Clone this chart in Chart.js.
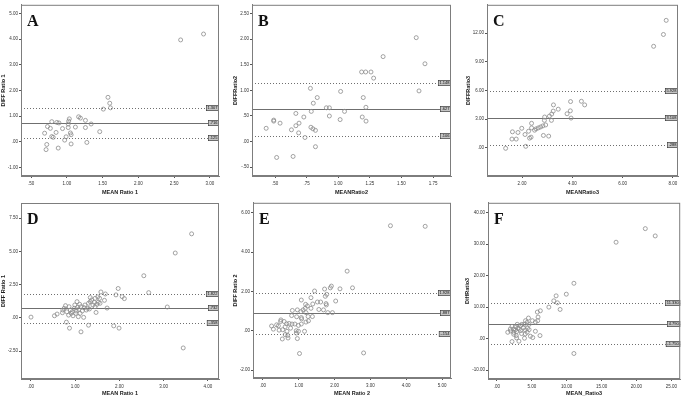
<!DOCTYPE html>
<html>
<head>
<meta charset="utf-8">
<script src="https://cdn.jsdelivr.net/npm/chart.js@4"></script>
<style>
  body { margin: 0; background: #fff; }
  #wrap { position: relative; width: 685px; height: 398px; }
  canvas { position: absolute; }
</style>
</head>
<body>
<div id="wrap"></div>
<script>
// Bland-Altman plots, panels A-F (mean of ratios vs difference)

const aMean = [2.59, 2.91, 1.575, 1.60, 1.61, 1.51, 1.165, 1.19, 1.035, 1.026, 0.79, 0.86, 0.89, 1.26, 1.34, 1.02, 0.73, 0.77, 0.94, 1.02, 1.12, 1.26, 0.69, 0.85, 1.05, 1.06, 0.79, 0.81, 0.99, 0.97, 1.46, 1.06, 0.72, 0.71, 0.88, 1.28];
const aDiff = [3.97, 4.20, 1.73, 1.50, 1.32, 1.27, 0.97, 0.92, 0.89, 0.80, 0.78, 0.75, 0.73, 0.83, 0.69, 0.69, 0.59, 0.52, 0.51, 0.55, 0.57, 0.55, 0.33, 0.36, 0.34, 0.27, 0.20, 0.17, 0.19, 0.06, 0.39, -0.09, -0.11, -0.31, -0.25, -0.03];
const aLimits = [1.307, 0.716, 0.125];

const bMean = [1.617, 1.355, 1.686, 1.185, 1.217, 1.259, 1.28, 0.78, 1.019, 1.639, 0.834, 1.198, 0.803, 0.906, 0.93, 1.219, 0.787, 1.05, 0.665, 0.728, 0.93, 1.19, 1.015, 1.22, 0.49, 0.49, 0.54, 0.69, 0.665, 0.784, 0.80, 0.82, 0.43, 0.63, 0.687, 0.737, 0.82, 0.513, 0.643];
const bDiff = [2.03, 1.66, 1.52, 1.36, 1.36, 1.36, 1.24, 1.04, 0.98, 0.99, 0.86, 0.86, 0.75, 0.66, 0.66, 0.67, 0.59, 0.59, 0.55, 0.48, 0.50, 0.48, 0.43, 0.40, 0.42, 0.40, 0.36, 0.36, 0.31, 0.28, 0.25, 0.22, 0.26, 0.23, 0.17, 0.08, -0.10, -0.31, -0.29];
const bLimits = [1.148, 0.627, 0.106];

const cMean = [7.73, 7.62, 7.23, 4.36, 3.93, 3.25, 4.49, 3.44, 3.92, 3.24, 3.79, 3.18, 3.09, 3.95, 2.90, 3.17, 2.89, 2.38, 2.94, 2.83, 2.74, 2.65, 2.56, 2.50, 1.99, 2.38, 2.26, 1.62, 1.84, 2.12, 2.85, 3.06, 2.36, 2.30, 1.60, 1.77, 2.15, 1.35];
const cDiff = [13.34, 11.86, 10.62, 4.86, 4.83, 4.48, 4.48, 4.03, 3.86, 3.83, 3.55, 3.52, 3.31, 3.10, 3.21, 2.86, 2.86, 2.55, 2.38, 2.28, 2.17, 2.07, 1.97, 1.83, 2.03, 2.07, 1.72, 1.66, 1.59, 1.38, 1.28, 1.21, 1.10, 1.00, 0.90, 0.90, 0.14, -0.07];
const cLimits = [5.928, 3.108, 0.288];

const dMean = [3.63, 3.26, 2.55, 2.66, 1.97, 1.58, 1.68, 1.92, 2.06, 2.11, 1.51, 1.34, 1.66, 3.08, 1.72, 1.87, 1.99, 3.44, 0.00, 1.13, 0.87, 1.30, 0.80,
  0.53, 0.59, 0.71, 0.72, 0.75, 0.78, 0.81, 0.85, 0.86, 0.89, 0.91, 0.93, 0.95, 0.98, 0.99, 1.01, 1.02, 1.04, 1.05, 1.07, 1.08, 1.10, 1.11, 1.13, 1.16, 1.19, 1.20, 1.22, 1.25, 1.28, 1.30, 1.32, 1.34, 1.37, 1.40, 1.43, 1.45, 1.47, 1.49, 1.52, 1.56, 1.55, 1.45];
const dDiff = [6.31, 4.87, 3.16, 1.89, 2.20, 1.94, 1.79, 1.72, 1.59, 1.44, 1.57, 1.52, 1.31, 0.81, 0.73, -0.61, -0.78, -2.27, 0.05, -1.06, -0.78, -0.56, -0.33,
  0.15, 0.28, 0.38, 0.58, 0.71, 0.91, 0.45, 0.20, 0.83, 0.58, 0.33, 0.45, 0.15, 0.71, 0.96, 0.33, 0.51, 1.21, 0.78, 0.08, 0.63, 1.01, 0.33, 0.83, 0.51, 0.03, 0.76, 0.96, 0.58, 0.71, 1.09, 0.66, 1.21, 1.34, 0.96, 1.16, 0.83, 0.40, 1.01, 1.16, 1.09, 1.46, 1.46];
const dLimits = [1.822, 0.732, -0.358];

const eMean = [3.56, 4.53, 2.35, 2.50, 2.15, 1.91, 1.88, 1.72, 1.44, 1.78, 1.74, 2.03, 1.76, 1.77, 1.52, 1.61, 1.34, 1.07, 1.39, 1.19, 1.24, 1.34, 1.56, 1.69, 1.18, 1.12, 0.96, 1.06, 1.20, 1.81, 1.94, 1.38, 1.26, 1.07, 0.94, 0.80, 0.82, 1.08, 1.20, 1.27, 1.07, 0.99, 0.89, 0.73, 0.81, 0.66, 0.59, 0.50, 0.49, 0.38, 0.24, 0.29, 0.43, 0.45, 0.62, 0.77, 0.93, 0.93, 0.99, 1.16, 0.62, 0.69, 0.70, 0.54, 0.96, 1.02, 2.81, 0.55, 0.67];
const eDiff = [5.34, 5.31, 3.03, 2.18, 2.13, 2.27, 2.18, 2.12, 2.02, 1.85, 1.75, 1.51, 1.38, 1.31, 1.46, 1.46, 1.68, 1.56, 1.36, 1.34, 1.26, 1.14, 1.08, 1.06, 1.14, 1.06, 1.06, 0.97, 0.92, 0.92, 0.92, 0.72, 0.72, 0.67, 0.71, 0.77, 1.03, 0.60, 0.44, 0.50, 0.34, 0.27, 0.34, 0.37, 0.34, 0.35, 0.47, 0.55, 0.47, 0.30, 0.24, 0.08, 0.25, 0.03, 0.20, 0.13, 0.00, -0.12, -0.03, -0.03, -0.20, -0.24, -0.37, -0.42, -0.40, -1.16, -1.13, 0.05, -0.03];
const eLimits = [1.928, 0.887, -0.154];

const fMean = [21.27, 22.69, 17.08, 11.04, 9.95, 8.49, 8.16, 8.68, 7.45, 9.06, 6.23, 5.80, 5.90, 4.53, 5.85, 5.09, 5.52, 4.10, 4.34, 3.58, 3.96, 4.62, 2.92, 3.40, 2.69, 2.17, 1.93, 2.41, 3.02, 3.82, 4.39, 1.56, 1.98, 2.41, 2.83, 3.40, 4.06, 4.62, 5.52, 2.41, 2.78, 3.54, 4.06, 4.34, 4.81, 5.14, 6.18, 2.83, 3.16, 2.17, 3.96, 11.04, 3.21, 2.64];
const fDiff = [34.95, 32.63, 30.63, 17.58, 14.11, 13.58, 12.00, 11.37, 10.00, 9.26, 8.84, 8.42, 6.84, 6.53, 5.68, 5.68, 5.26, 5.68, 5.16, 4.53, 4.53, 4.53, 4.53, 4.11, 3.79, 3.89, 3.05, 3.05, 3.26, 3.47, 3.26, 2.00, 2.42, 2.00, 2.21, 2.53, 2.74, 2.84, 2.32, 1.37, 0.95, 1.58, 1.47, 2.00, 0.74, 0.32, 0.95, 0.21, -0.84, -0.95, 0.11, -4.74, 3.05, 2.74];
const fLimits = [11.33, 4.79, -1.75];

const aXTicks = [0.5, 1, 1.5, 2, 2.5, 3], aYTicks = [-1, 0, 1, 2, 3, 4, 5];
const bXTicks = [0.5, 0.75, 1, 1.25, 1.5, 1.75], bYTicks = [-0.5, 0, 0.5, 1, 1.5, 2, 2.5];
const cXTicks = [2, 4, 6, 8], cYTicks = [0, 3, 6, 9, 12];
const dXTicks = [0, 1, 2, 3, 4], dYTicks = [-2.5, 0, 2.5, 5, 7.5];
const eXTicks = [0, 1, 2, 3, 4, 5], eYTicks = [-2, 0, 2, 4, 6];
const fXTicks = [0, 5, 10, 15, 20, 25], fYTicks = [-10, 0, 10, 20, 30, 40];

const LINE = "#6f6f6f";
const POINT = "#8c8c8c";

function fmt(v, d) {
    let s = Math.abs(v).toFixed(d);
    if (s.startsWith("0")) s = s.slice(1);
    return (v < 0 ? "-" : "") + s;
}

// draws box, limit lines, value tags and panel letter
const extras = {
    id: "extras",
    beforeDatasetsDraw(chart, args, o) {
        const a = chart.chartArea, ctx = chart.ctx, y = chart.scales.y;
        ctx.save();
        ctx.strokeStyle = LINE;
        o.limits.forEach((v, i) => {
            const py = Math.round(y.getPixelForValue(v)) + 0.5;
            ctx.lineWidth = i == 1 ? 1.1 : 1;
            ctx.setLineDash(i == 1 ? [] : [1, 2]);
            ctx.beginPath();
            ctx.moveTo(a.left, py);
            ctx.lineTo(a.right, py);
            ctx.stroke();
        });
        ctx.restore();
    },
    afterDatasetsDraw(chart, args, o) {
        const a = chart.chartArea, ctx = chart.ctx, y = chart.scales.y;
        ctx.save();
        ctx.font = "4px 'Liberation Sans'";
        ctx.textBaseline = "middle";
        o.limits.forEach(v => {
            const py = Math.round(y.getPixelForValue(v));
            const t = fmt(v, 3);
            const w = ctx.measureText(t).width + 3;
            ctx.fillStyle = "#c4c4c4";
            ctx.fillRect(a.right - w, py - 3, w, 6);
            ctx.strokeStyle = "#333";
            ctx.lineWidth = 0.6;
            ctx.strokeRect(a.right - w + 0.3, py - 2.7, w - 0.6, 5.4);
            ctx.fillStyle = "#111";
            ctx.fillText(t, a.right - w + 1.5, py + 0.3);
        });
        ctx.strokeStyle = "#7d7d7d";
        ctx.lineWidth = 1;
        ctx.strokeRect(a.left + 0.5, a.top + 0.5, a.right - a.left - 1, a.bottom - a.top - 1);
        ctx.fillStyle = "#111";
        ctx.textBaseline = "alphabetic";
        ctx.font = "bold 16px 'Liberation Serif'";
        ctx.fillText(o.letter, a.left + 6, a.top + 21);
        ctx.restore();
    }
};

const wrap = document.getElementById("wrap");

function makePanel(p) {
    const cv = document.createElement("canvas");
    cv.width = p.w; cv.height = p.h;
    cv.style.left = p.x + "px"; cv.style.top = p.y + "px";
    cv.style.width = p.w + "px"; cv.style.height = p.h + "px";
    wrap.appendChild(cv);
    const lh = 6;
    const padL = Math.max(0, p.yTitleX - lh / 2);
    const padB = Math.max(0, p.h - p.xTitleY - lh / 2);
    const tickFont = { family: "'Liberation Sans'", size: 4.5 };
    const titleFont = { family: "'Liberation Sans'", size: 5.5, weight: "bold", lineHeight: lh / 5.5 };
    return new Chart(cv, {
        type: "scatter",
        data: {
            datasets: [{
                data: p.mean.map((m, i) => ({ x: m, y: p.diff[i] })),
                pointStyle: "circle",
                pointRadius: 2,
                borderWidth: 0.8,
                borderColor: POINT,
                backgroundColor: "rgba(0,0,0,0)"
            }]
        },
        options: {
            responsive: false,
            animation: false,
            devicePixelRatio: 1,
            layout: { padding: { left: padL, top: p.area[1], right: p.w - p.area[2], bottom: padB } },
            plugins: {
                legend: { display: false },
                tooltip: { enabled: false },
                extras: { limits: p.limits, letter: p.letter }
            },
            scales: {
                x: {
                    type: "linear", min: p.xRange[0], max: p.xRange[1],
                    afterBuildTicks: s => { s.ticks = p.xTicks.map(v => ({ value: v })); },
                    afterFit: s => { s.height = p.h - padB - p.area[3]; },
                    grid: { drawOnChartArea: false, tickLength: 2, tickColor: "#555" },
                    border: { color: "#7d7d7d" },
                    ticks: { font: tickFont, color: "#333", padding: 3, maxRotation: 0, autoSkip: false, callback: v => fmt(v, 2) },
                    title: { display: true, text: p.xTitle, font: titleFont, color: "#222", padding: 0 }
                },
                y: {
                    type: "linear", min: p.yRange[0], max: p.yRange[1],
                    afterBuildTicks: s => { s.ticks = p.yTicks.map(v => ({ value: v })); },
                    afterFit: s => { s.width = p.area[0] - padL; },
                    grid: { drawOnChartArea: false, tickLength: 2, tickColor: "#555" },
                    border: { color: "#7d7d7d" },
                    ticks: { font: tickFont, color: "#333", padding: 1, autoSkip: false, callback: v => fmt(v, 2) },
                    title: { display: true, text: p.yTitle, font: titleFont, color: "#222", padding: 0 }
                }
            }
        },
        plugins: [extras]
    });
}

makePanel({ x: 0, y: 0, w: 228, h: 198, area: [21, 1, 219, 176], yTitleX: 3, xTitleY: 192,
    mean: aMean, diff: aDiff, limits: aLimits, xTicks: aXTicks, yTicks: aYTicks,
    xRange: [0.36, 3.126], yRange: [-1.34, 5.34], letter: "A", xTitle: "MEAN Ratio 1", yTitle: "DIFF Ratio 1" });
makePanel({ x: 228, y: 0, w: 228, h: 198, area: [24, 1, 223, 176], yTitleX: 7, xTitleY: 192,
    mean: bMean, diff: bDiff, limits: bLimits, xTicks: bXTicks, yTicks: bYTicks,
    xRange: [0.318, 1.892], yRange: [-0.672, 2.672], letter: "B", xTitle: "MEANRatio2", yTitle: "DIFFRatio2" });
makePanel({ x: 456, y: 0, w: 229, h: 198, area: [31, 1, 222, 176], yTitleX: 12, xTitleY: 192,
    mean: cMean, diff: cDiff, limits: cLimits, xTicks: cXTicks, yTicks: cYTicks,
    xRange: [0.609, 8.199], yRange: [-2.97, 14.97], letter: "C", xTitle: "MEANRatio3", yTitle: "DIFFRatio3" });
makePanel({ x: 0, y: 198, w: 228, h: 200, area: [21, 5, 219, 181], yTitleX: 3, xTitleY: 195,
    mean: dMean, diff: dDiff, limits: dLimits, xTicks: dXTicks, yTicks: dYTicks,
    xRange: [-0.226, 4.249], yRange: [-4.605, 8.63], letter: "D", xTitle: "MEAN Ratio 1", yTitle: "DIFF Ratio 1" });
makePanel({ x: 228, y: 198, w: 228, h: 200, area: [25, 4, 223, 180], yTitleX: 7, xTitleY: 195,
    mean: eMean, diff: eDiff, limits: eLimits, xTicks: eXTicks, yTicks: eYTicks,
    xRange: [-0.279, 5.251], yRange: [-2.405, 6.506], letter: "E", xTitle: "MEAN Ratio 2", yTitle: "DIFF Ratio 2" });
makePanel({ x: 456, y: 198, w: 229, h: 200, area: [32, 4, 227, 181], yTitleX: 11, xTitleY: 195,
    mean: fMean, diff: fDiff, limits: fLimits, xTicks: fXTicks, yTicks: fYTicks,
    xRange: [-1.27, 26.27], yRange: [-12.85, 43.16], letter: "F", xTitle: "MEAN_Ratio3", yTitle: "DiffRatio3" });
</script>
</body>
</html>
